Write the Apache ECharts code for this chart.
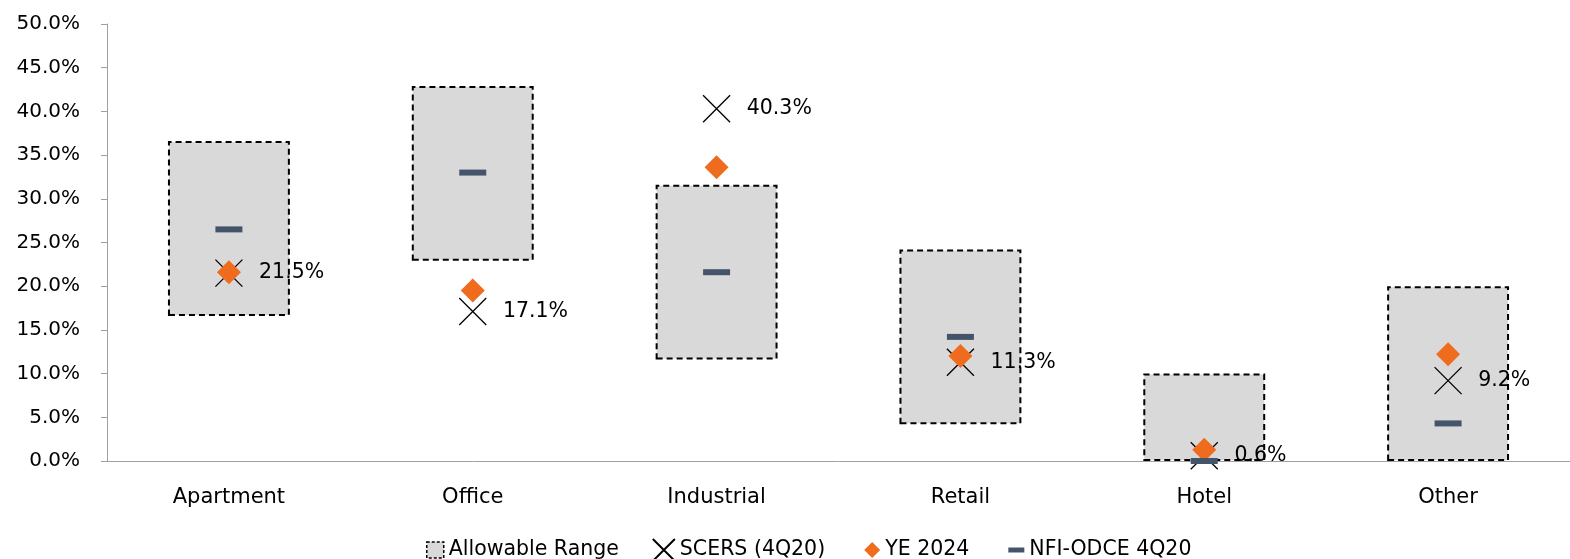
<!DOCTYPE html>
<html>
<head>
<meta charset="utf-8">
<script src="https://cdn.jsdelivr.net/npm/echarts@6/dist/echarts.min.js"></script>
<style>
html,body{margin:0;padding:0;background:#fff;}
#chart{width:1570px;height:559px;}
</style>
</head>
<body>
<div id="chart"></div>
<script>
const categories = ['Apartment', 'Office', 'Industrial', 'Retail', 'Hotel', 'Other'];
const rangeLow  = [16.6, 22.9, 11.6, 4.2, 0.0, 0.0];
const rangeHigh = [36.6, 42.9, 31.6, 24.2, 10.0, 20.0];
const scers     = [21.5, 17.1, 40.3, 11.3, 0.6, 9.2];
const ye2024    = [21.6, 19.5, 33.6, 12.0, 1.3, 12.2];
const nfiOdce   = [26.5, 33.0, 21.6, 14.2, 0.0, 4.3];
const yMin = 0, yMax = 50, yStep = 5;

const FONT = 'DejaVu Sans';
const rangeSize = rangeHigh.map((h, i) => +(h - rangeLow[i]).toFixed(2));

const chart = echarts.init(document.getElementById('chart'));
chart.setOption({
  animation: false,
  backgroundColor: '#fff',
  textStyle: { fontFamily: FONT, color: '#000' },
  grid: { left: 107, top: 24, bottom: 98, width: 1473 },
  legend: {
    left: 416, top: 533,
    itemWidth: 22, itemHeight: 22, itemGap: 33,
    textStyle: { fontFamily: FONT, fontSize: 20.5, color: '#000' },
    data: [
      { name: 'Allowable Range', icon: 'path://M0,0M22,22M5,3h17v16h-17z',
        itemStyle: { color: '#D9D9D9', borderColor: '#000', borderWidth: 1.5, borderType: [3, 2], opacity: 1 } },
      { name: 'SCERS (4Q20)', icon: 'path://M0,0L22,22M22,0L0,22' },
      { name: 'YE 2024', icon: 'path://M0,0M22,22M14,3L22,11L14,19L6,11Z' },
      { name: 'NFI-ODCE 4Q20', icon: 'path://M0,0M22,22M6,8.5h16v5h-16z' }
    ]
  },
  xAxis: {
    type: 'category',
    data: categories,
    axisLine: { lineStyle: { color: '#A0A0A0', width: 1 } },
    axisTick: { show: false },
    axisLabel: { fontFamily: FONT, fontSize: 21, color: '#000', margin: 26 },
    splitLine: { show: false }
  },
  yAxis: {
    type: 'value',
    min: yMin, max: yMax, interval: yStep,
    axisLine: { show: true, lineStyle: { color: '#A0A0A0', width: 1 } },
    axisTick: { show: true, length: 6, lineStyle: { color: '#A0A0A0' } },
    axisLabel: { fontFamily: FONT, fontSize: 20, color: '#000', margin: 27,
      formatter: v => v.toFixed(1) + '%' },
    splitLine: { show: false }
  },
  series: [
    {
      name: 'base', type: 'bar', stack: 'range', data: rangeLow, barWidth: '50%',
      itemStyle: { color: 'rgba(0,0,0,0)' }, silent: true, z: 1
    },
    {
      name: 'Allowable Range', type: 'bar', stack: 'range', data: rangeSize, barWidth: '50%',
      itemStyle: { color: '#D9D9D9', borderColor: '#000', borderWidth: 2, borderType: [6, 4], opacity: 1 }, z: 1
    },
    {
      name: 'SCERS (4Q20)', type: 'scatter', data: scers,
      symbol: 'path://M0,0L20,20M20,0L0,20', symbolSize: 27,
      itemStyle: { color: 'rgba(0,0,0,0)', borderColor: '#000', borderWidth: 1.3, opacity: 1 },
      label: { show: true, position: 'right', distance: 16, fontFamily: FONT, fontSize: 20.5, color: '#000',
        formatter: p => p.value.toFixed(1) + '%' },
      z: 3
    },
    {
      name: 'YE 2024', type: 'scatter', data: ye2024,
      symbol: 'diamond', symbolSize: 24,
      itemStyle: { color: '#EF6C1E', opacity: 1 }, z: 4
    },
    {
      name: 'NFI-ODCE 4Q20', type: 'scatter', data: nfiOdce,
      symbol: 'rect', symbolSize: [27, 6],
      itemStyle: { color: '#44546A', opacity: 1 }, z: 5
    }
  ]
});
</script>
</body>
</html>
